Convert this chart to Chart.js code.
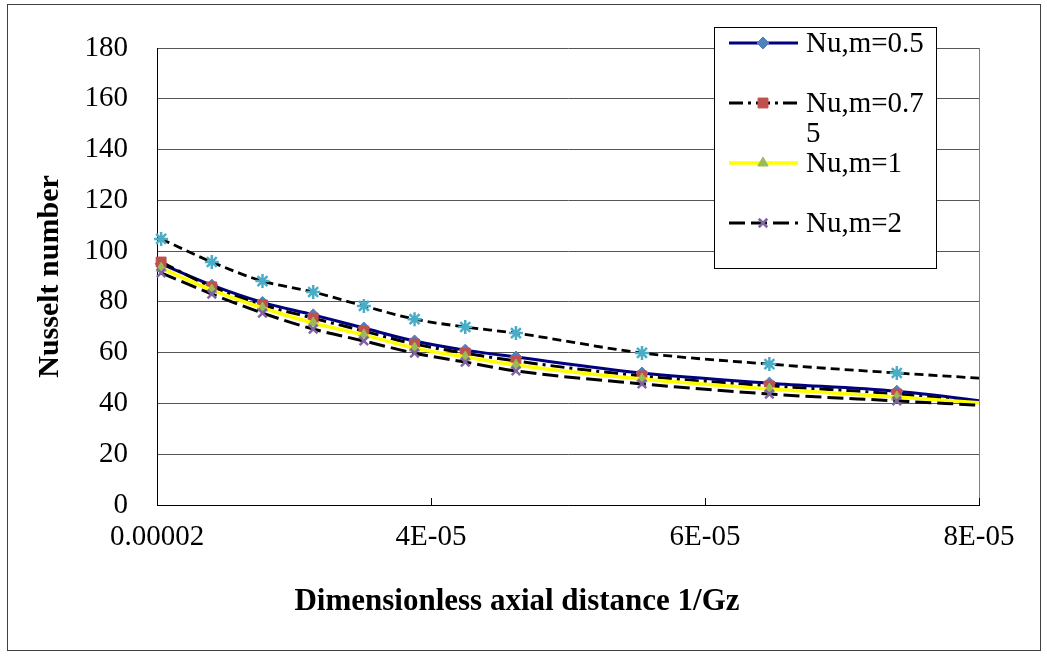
<!DOCTYPE html>
<html>
<head>
<meta charset="utf-8">
<script src="https://cdn.jsdelivr.net/npm/chart.js@4.4.1/dist/chart.umd.min.js"></script>
<style>
html,body{margin:0;padding:0;background:#fff;}
#wrap{width:1047px;height:656px;position:relative;}
</style>
</head>
<body>
<div id="wrap"><canvas id="c" width="1047" height="656"></canvas></div>
<script>
// ---- data ----
const xValues = [2.03e-5, 2.40e-5, 2.77e-5, 3.14e-5, 3.51e-5, 3.88e-5, 4.25e-5, 4.62e-5, 5.54e-5, 6.47e-5, 7.40e-5, 8.33e-5];
const nuM05  = [95.0, 86.6, 79.8, 74.9, 69.7, 64.6, 61.0, 58.3, 52.0, 48.0, 44.8, 38.9];
const nuM075 = [95.7, 85.9, 78.8, 73.6, 68.5, 63.4, 59.8, 56.7, 50.8, 46.9, 43.7, 38.2];
const nuM1   = [93.3, 84.7, 77.6, 71.7, 67.0, 61.8, 58.3, 55.1, 49.6, 45.7, 42.5, 39.0];
const nuM2   = [91.4, 83.1, 75.6, 69.3, 64.6, 59.8, 56.3, 52.8, 47.7, 43.7, 41.0, 38.4];
const nuTop  = [104.8, 95.7, 88.2, 83.9, 78.4, 73.2, 70.1, 67.7, 59.9, 55.5, 52.0, 48.9];
const seriesNames = ['Nu,m=0.5', 'Nu,m=0.75', 'Nu,m=1', 'Nu,m=2', 'Nu'];
const legendLabels = [['Nu,m=0.5'], ['Nu,m=0.7', '5'], ['Nu,m=1'], ['Nu,m=2']];
const xTickValues = [2e-5, 4e-5, 6e-5, 8e-5];
const xTickLabels = ['0.00002', '4E-05', '6E-05', '8E-05'];
const yMin = 0, yMax = 180, yStep = 20;
const xTitle = 'Dimensionless axial distance 1/Gz';
const yTitle = 'Nusselt number';

const FONT = "'Liberation Serif', 'Times New Roman', serif";

function pts(arr){ return xValues.map((x,i)=>({x:x, y:arr[i]})); }

const styles = [
  {line:'#000080', width:3, dash:[], ps:'rectRot', pc:'#4F81BD', pb:'#4F81BD', r:6, bw:1},
  {line:'#000000', width:3, dash:[14,5,3,5], ps:'rect', pc:'#C0504D', pb:'#C0504D', r:7, bw:1},
  {line:'#FFFF00', width:3.5, dash:[], ps:'triangle', pc:'#9BBB59', pb:'#9BBB59', r:6, bw:1},
  {line:'#000000', width:3, dash:[16,6], ps:'crossRot', pc:'#8064A2', pb:'#8064A2', r:6, bw:2.5},
  {line:'#000000', width:2.8, dash:[9,5], ps:'star', pc:'#4BACC6', pb:'#4BACC6', r:7, bw:2.5}
];
const seriesData = [nuM05, nuM075, nuM1, nuM2, nuTop];

const datasets = seriesData.map((arr, i) => ({
  label: seriesNames[i],
  data: pts(arr),
  borderColor: styles[i].line,
  borderWidth: styles[i].width,
  borderDash: styles[i].dash,
  backgroundColor: styles[i].pc,
  pointStyle: styles[i].ps,
  pointRadius: styles[i].r,
  pointBackgroundColor: styles[i].pc,
  pointBorderColor: styles[i].pb,
  pointBorderWidth: styles[i].bw,
  cubicInterpolationMode: 'monotone',
  fill: false,
  order: 10 - i,
  clip: {left: 8, top: 8, right: 0, bottom: 8}
}));

const framePlugin = {
  id: 'frame',
  beforeDraw(chart){
    const ctx = chart.ctx;
    ctx.save();
    ctx.fillStyle = '#fff';
    ctx.fillRect(0,0,chart.width,chart.height);
    ctx.strokeStyle = '#404040';
    ctx.lineWidth = 1;
    ctx.strokeRect(7.5, 4.5, 1033, 646);
    ctx.restore();
  },
  beforeDatasetsDraw(chart){
    const ctx = chart.ctx, a = chart.chartArea, xs = chart.scales.x;
    ctx.save();
    ctx.strokeStyle = '#808080';
    ctx.lineWidth = 1;
    ctx.beginPath();
    ctx.moveTo(Math.round(a.right)+0.5, a.top);
    ctx.lineTo(Math.round(a.right)+0.5, a.bottom);
    ctx.stroke();
    ctx.strokeStyle = '#000';
    xTickValues.forEach(v => {
      const px = Math.round(xs.getPixelForValue(v)) + 0.5;
      ctx.beginPath();
      ctx.moveTo(px, a.bottom);
      ctx.lineTo(px, a.bottom - 7);
      ctx.stroke();
    });
    ctx.restore();
  },
  afterDraw(chart){
    const ctx = chart.ctx;
    ctx.save();
    ctx.fillStyle = '#000';
    ctx.font = 'bold 31px ' + FONT;
    ctx.textAlign = 'center';
    ctx.textBaseline = 'middle';
    ctx.fillText(xTitle, 517, 602);
    const lx = 714.5, ly = 27.5, lw = 222, lh = 241;
    ctx.fillStyle = '#fff';
    ctx.fillRect(lx, ly, lw, lh);
    ctx.strokeStyle = '#000';
    ctx.lineWidth = 1;
    ctx.strokeRect(lx, ly, lw, lh);
    const rowY = [43, 103, 163, 223];
    legendLabels.forEach((lines, i) => {
      const s = styles[i];
      const y = rowY[i];
      ctx.save();
      ctx.strokeStyle = s.line;
      ctx.lineWidth = s.width;
      ctx.setLineDash(s.dash);
      ctx.beginPath();
      ctx.moveTo(729, y);
      ctx.lineTo(798, y);
      ctx.stroke();
      ctx.restore();
      ctx.save();
      ctx.fillStyle = s.pc;
      ctx.strokeStyle = s.pb;
      ctx.lineWidth = s.bw;
      Chart.helpers.drawPoint(ctx, {pointStyle: s.ps, radius: s.r, rotation: 0, borderWidth: s.bw}, 763, y);
      ctx.restore();
      ctx.fillStyle = '#000';
      ctx.font = '29px ' + FONT;
      ctx.textAlign = 'left';
      ctx.textBaseline = 'middle';
      lines.forEach((t, k) => ctx.fillText(t, 806, y + 1 + k * 30));
    });
    ctx.restore();
  }
};

new Chart(document.getElementById('c'), {
  type: 'line',
  data: { datasets: datasets },
  plugins: [framePlugin],
  options: {
    responsive: false,
    animation: false,
    events: [],
    layout: { padding: { left: 0, top: 48, right: 68, bottom: 0 } },
    plugins: { legend: { display: false }, tooltip: { enabled: false }, title: { display: false } },
    scales: {
      x: {
        type: 'linear',
        min: xTickValues[0],
        max: xTickValues[xTickValues.length - 1],
        afterBuildTicks: s => { s.ticks = xTickValues.map(v => ({value: v})); },
        afterFit: s => { s.height = 151; },
        grid: { display: false, drawTicks: false },
        border: { display: true, color: '#000', width: 1 },
        ticks: {
          autoSkip: false, maxRotation: 0, minRotation: 0,
          padding: 15, color: '#000',
          font: { family: FONT, size: 29 },
          callback: (v, i) => xTickLabels[i]
        },
        title: { display: false }
      },
      y: {
        type: 'linear',
        min: yMin, max: yMax,
        afterFit: s => { s.width = 157; },
        grid: { color: '#555', lineWidth: 1, drawTicks: false },
        border: { display: true, color: '#000', width: 1 },
        ticks: {
          stepSize: yStep, padding: 29, color: '#000',
          font: { family: FONT, size: 29 }
        },
        title: {
          display: true, text: yTitle, color: '#000',
          font: { family: FONT, size: 30, weight: 'bold', lineHeight: 1 },
          padding: { top: 35, bottom: 0 }
        }
      }
    }
  }
});
</script>
</body>
</html>
